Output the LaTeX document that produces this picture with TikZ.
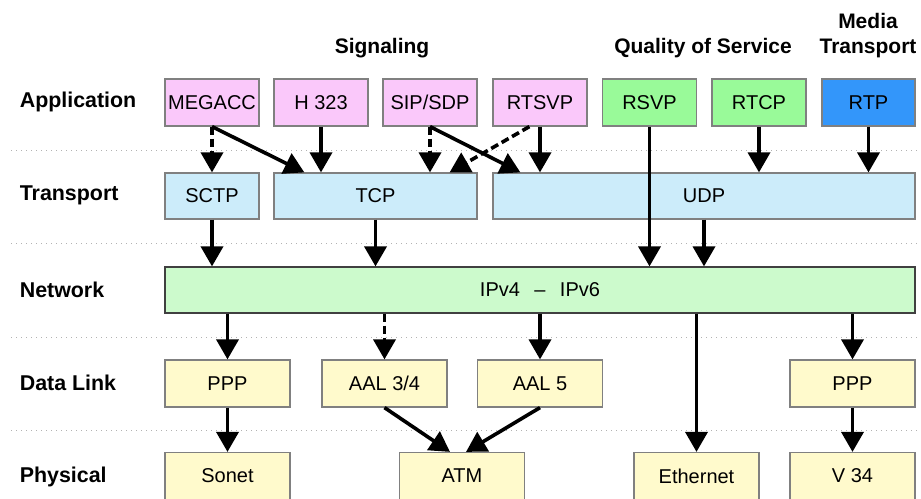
\documentclass[tikz,border=0pt]{standalone}
\usepackage{fontspec}
\setmainfont{Liberation Sans}
\usetikzlibrary{arrows.meta, positioning}
\definecolor{appfill}{RGB}{250,200,250}
\definecolor{transfill}{RGB}{204,236,250}
\definecolor{qosfill}{RGB}{153,250,153}
\definecolor{rtpfill}{RGB}{51,150,250}
\definecolor{netfill}{RGB}{204,250,204}
\definecolor{linkfill}{RGB}{255,250,204}
\begin{document}
\begin{tikzpicture}[x=0.5pt, y=-0.5pt, >={Triangle[length=10pt, width=11pt]}, line width=1.8pt,
	box/.style={draw=gray, line width=0.6pt, inner sep=0pt, font=\fontsize{10}{12}\selectfont, minimum height=23.5pt},
	appbox/.style={box, fill=appfill, minimum width=47pt},
	qosbox/.style={box, fill=qosfill, minimum width=47pt},
	transbox/.style={box, fill=transfill, minimum height=23pt},
	linkbox/.style={box, fill=linkfill, minimum width=62.5pt},
	rowlabel/.style={anchor=west, inner sep=0pt, font=\fontsize{10.7}{12.5}\selectfont\bfseries},
	grouplabel/.style={align=center, font=\fontsize{10.5}{12.5}\selectfont\bfseries},
	sep/.style={draw=gray!60, line width=0.5pt, dotted},
	optional/.style={dash pattern=on 4pt off 2pt}]
	\useasboundingbox (0,0) rectangle (921,498);

	\draw[sep] (11,150) -- (921,150);
	\draw[sep] (11,243) -- (921,243);
	\draw[sep] (11,337) -- (921,337);
	\draw[sep] (11,430) -- (921,430);

	\node[rowlabel] (lapp) at (18,102) {Application};
	\node[rowlabel] (ltrans) at (18,195) {Transport};
	\node[rowlabel] (lnet) at (18,290) {Network};
	\node[rowlabel] (llink) at (18,383) {Data Link};
	\node[rowlabel] (lphys) at (18,477) {Physical};

	\node[grouplabel] (gsig) at (382,48) {Signaling};
	\node[grouplabel] (gqos) at (703,48) {Quality of Service};
	\node[grouplabel] (gmedia) at (868,36) {Media\\Transport};

	\node[appbox] (megacc) at (212,102.5) {MEGACC};
	\node[appbox] (hthree) at (321,102.5) {H 323};
	\node[appbox] (sipsdp) at (430,102.5) {SIP/SDP};
	\node[appbox] (rtsvp) at (540,102.5) {RTSVP};
	\node[qosbox] (rsvp) at (649.5,102.5) {RSVP};
	\node[qosbox] (rtcp) at (759,102.5) {RTCP};
	\node[box, fill=rtpfill, minimum width=46.5pt] (rtp) at (868.5,102.5) {RTP};

	\node[transbox, minimum width=47pt] (sctp) at (212,196) {SCTP};
	\node[transbox, minimum width=101.5pt] (tcp) at (375.5,196) {TCP};
	\node[transbox, minimum width=211pt] (udp) at (704,196) {UDP};

	\node[box, draw=black!75, fill=netfill, minimum width=375pt, minimum height=23pt] (ip) at (540,290) {IPv4 \ \,--\ \, IPv6};

	\node[linkbox] (ppp) at (227.5,383.5) {PPP};
	\node[linkbox] (aalthree) at (384.5,383.5) {AAL 3/4};
	\node[linkbox] (aalfive) at (540,383.5) {AAL 5};
	\node[linkbox] (pppb) at (852.5,383.5) {PPP};

	\node[linkbox] (sonet) at (227.5,476) {Sonet};
	\node[linkbox] (atm) at (462,476) {ATM};
	\node[linkbox] (ethernet) at (696.5,476) {Ethernet};
	\node[linkbox] (vthree) at (852.5,476) {V 34};

	\draw[->, optional] (megacc.south) -- (megacc.south |- sctp.north);
	\draw[->] (megacc.south) -- ([xshift=15.5pt]tcp.north west);
	\draw[->] (hthree.south) -- (hthree.south |- tcp.north);
	\draw[->, optional] (sipsdp.south) -- (sipsdp.south |- tcp.north);
	\draw[->] (sipsdp.south) -- ([xshift=14pt]udp.north west);
	\draw[->, optional] ([xshift=18.5pt]rtsvp.south west) -- ([xshift=-14pt]tcp.north east);
	\draw[->] (rtsvp.south) -- (rtsvp.south |- udp.north);
	\draw[->] (rsvp.south) -- (rsvp.south |- ip.north);
	\draw[->] (rtcp.south) -- (rtcp.south |- udp.north);
	\draw[->] (rtp.south) -- (rtp.south |- udp.north);

	\draw[->] (sctp.south) -- (sctp.south |- ip.north);
	\draw[->] (tcp.south) -- (tcp.south |- ip.north);
	\draw[->] (udp.south) -- (udp.south |- ip.north);

	\draw[->] (ppp.north |- ip.south) -- (ppp.north);
	\draw[->, optional] (aalthree.north |- ip.south) -- (aalthree.north);
	\draw[->] (aalfive.north |- ip.south) -- (aalfive.north);
	\draw[->] (ethernet.north |- ip.south) -- (ethernet.north);
	\draw[->] (pppb.north |- ip.south) -- (pppb.north);

	\draw[->] (ppp.south) -- (sonet.north);
	\draw[->] (aalthree.south) -- ([xshift=-6pt]atm.north);
	\draw[->] (aalfive.south) -- ([xshift=2pt]atm.north);
	\draw[->] (pppb.south) -- (vthree.north);
\end{tikzpicture}
\end{document}
